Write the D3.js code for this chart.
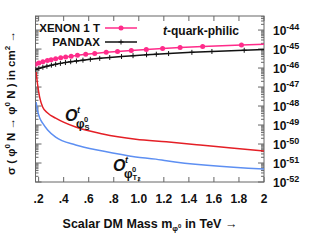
<!DOCTYPE html>
<html><head><meta charset="utf-8">
<script src="https://cdn.jsdelivr.net/npm/d3@7"></script>
<style>body{margin:0;background:#fff}svg{display:block;font-family:"Liberation Sans",Arial,sans-serif;font-weight:bold}</style>
</head><body>
<svg id="c" width="334" height="250"></svg>
<script>
// ---- data ----
const xenonMass  = [0.175,0.202,0.234,0.27,0.30,0.336,0.376,0.416,0.46,0.51,0.576,0.648,0.74,0.83,0.94,1.06,1.19,1.33,1.51,1.82,2.0];
const xenonSigma = [1.6e-46,1.85e-46,2.15e-46,2.5e-46,2.75e-46,3.1e-46,3.45e-46,3.8e-46,4.2e-46,4.65e-46,5.25e-46,5.9e-46,6.7e-46,7.5e-46,8.5e-46,9.6e-46,1.08e-45,1.2e-45,1.36e-45,1.64e-45,1.8e-45];
const pandaxMass  = [0.176,0.202,0.234,0.266,0.302,0.336,0.374,0.414,0.456,0.502,0.554,0.613,0.688,0.768,0.862,0.954,1.062,1.14,1.238,1.424,1.584,1.842,2.0];
const pandaxSigma = [8.3e-47,9.5e-47,1.1e-46,1.25e-46,1.42e-46,1.58e-46,1.76e-46,1.95e-46,2.15e-46,2.36e-46,2.6e-46,2.88e-46,3.23e-46,3.6e-46,4.05e-46,4.48e-46,5.0e-46,5.35e-46,5.8e-46,6.7e-46,7.45e-46,8.65e-46,9.4e-46];
const scalarMass  = [0.18,0.192,0.208,0.232,0.272,0.336,0.496,0.712,0.976,1.22,1.49,1.74,2.0];
const scalarSigma = [6.2e-47,1.3e-47,2.95e-48,8.9e-49,4.3e-49,2.3e-49,7.8e-50,3.4e-50,1.8e-50,1.3e-50,8.9e-51,6.2e-51,4.3e-51];
const tensorMass  = [0.18,0.192,0.208,0.232,0.272,0.336,0.496,0.712,0.976,1.136,1.22,2.0];
const tensorSigma = [1.6e-48,5.5e-49,2.4e-49,1.25e-49,5.5e-50,2.3e-50,8.9e-51,4.3e-51,2.1e-51,1.6e-51,1.3e-51,4.8e-52];
const xTickValues = [0.2,0.4,0.6,0.8,1.0,1.2,1.4,1.6,1.8,2.0];
const xTickLabels = [".2",".4",".6",".8","1.0","1.2","1.4","1.6","1.8","2"];
const yExponents  = [-52,-51,-50,-49,-48,-47,-46,-45,-44];

// ---- layout ----
const L=35.5, R=264, T=16, B=182;
const svg=d3.select("#c");
const x=d3.scaleLinear().domain([0.175,2]).range([L,R]);
const y=d3.scaleLog().domain([1e-52,Math.pow(10,-43.26)]).range([B,T]);
const frameCol="#666";

svg.append("rect").attr("x",L).attr("y",T).attr("width",R-L).attr("height",B-T)
  .attr("fill","none").attr("stroke",frameCol).attr("stroke-width",1);

const gx=svg.append("g").attr("stroke",frameCol).attr("stroke-width",1);
xTickValues.forEach(v=>{
  const px=x(v);
  gx.append("line").attr("x1",px).attr("x2",px).attr("y1",B).attr("y2",B-5);
  gx.append("line").attr("x1",px).attr("x2",px).attr("y1",T).attr("y2",T+5);
});
svg.append("g").selectAll("text").data(xTickValues).join("text")
  .attr("x",d=>x(d)).attr("y",203).attr("text-anchor","middle")
  .attr("font-size",12).attr("fill","#111").text((d,i)=>xTickLabels[i]);

const gy=svg.append("g").attr("stroke",frameCol).attr("stroke-width",1);
const [ylo,yhi]=y.domain();
yExponents.concat([-43]).forEach(e=>{
  for(let k=1;k<=9;k++){
    const v=k*Math.pow(10,e);
    if(v<ylo*0.999||v>yhi) continue;
    const len=k===1?6:3;
    const py=y(v);
    gy.append("line").attr("x1",L).attr("x2",L+len).attr("y1",py).attr("y2",py);
    gy.append("line").attr("x1",R).attr("x2",R-len).attr("y1",py).attr("y2",py);
  }
});
const yl=svg.append("g").selectAll("text").data(yExponents).join("text")
  .attr("x",273).attr("y",d=>y(Math.pow(10,d))+5).attr("font-size",12).attr("fill","#111");
yl.append("tspan").text("10");
yl.append("tspan").attr("dy",-5).attr("font-size",9).text(d=>"-"+Math.abs(d));

const line=d3.line().x(d=>x(d[0])).y(d=>y(d[1]));
const lineSmooth=d3.line().x(d=>x(d[0])).y(d=>y(d[1])).curve(d3.curveMonotoneX);
const xen=xenonMass.map((m,i)=>[m,xenonSigma[i]]);
const pan=pandaxMass.map((m,i)=>[m,pandaxSigma[i]]);
const sca=scalarMass.map((m,i)=>[m,scalarSigma[i]]);
const ten=tensorMass.map((m,i)=>[m,tensorSigma[i]]);

svg.append("clipPath").attr("id","pc").append("rect").attr("x",L).attr("y",T).attr("width",R-L).attr("height",B-T);
const plot=svg.append("g").attr("clip-path","url(#pc)");
const pink="#ff2b8a", blk="#111", red="#e41f26", blue="#5d8ff2";

plot.append("path").attr("d",lineSmooth(ten)).attr("fill","none").attr("stroke",blue).attr("stroke-width",1.5);
plot.append("path").attr("d",lineSmooth(sca)).attr("fill","none").attr("stroke",red).attr("stroke-width",1.5);
plot.append("path").attr("d",line(pan)).attr("fill","none").attr("stroke",blk).attr("stroke-width",1.5);
plot.append("path").attr("d",line(xen)).attr("fill","none").attr("stroke",pink).attr("stroke-width",1.5);
plot.selectAll("path.pm").data(pan.filter(d=>d[0]<1.99)).join("path").attr("class","pm")
  .attr("d",d=>`M${x(d[0])-2.5},${y(d[1])}h5M${x(d[0])},${y(d[1])-2.5}v5`)
  .attr("stroke",blk).attr("stroke-width",1);
plot.selectAll("circle").data(xen.filter(d=>d[0]<1.99)).join("circle")
  .attr("cx",d=>x(d[0])).attr("cy",d=>y(d[1])).attr("r",2.5).attr("fill",pink);

// legend
const leg=svg.append("g").attr("font-size",11.5).attr("fill","#111");
leg.append("text").attr("x",100).attr("y",32).attr("text-anchor","end").text("XENON 1 T");
leg.append("text").attr("x",100).attr("y",46).attr("text-anchor","end").text("PANDAX");
svg.append("line").attr("x1",105).attr("x2",137).attr("y1",28).attr("y2",28).attr("stroke",pink).attr("stroke-width",1.5);
svg.append("circle").attr("cx",121).attr("cy",28).attr("r",2.5).attr("fill",pink);
svg.append("line").attr("x1",105).attr("x2",137).attr("y1",42).attr("y2",42).attr("stroke",blk).attr("stroke-width",1.5);
svg.append("path").attr("d","M118.5,42h5M121,39.5v5").attr("stroke",blk);

const tq=svg.append("text").attr("x",163).attr("y",35).attr("font-size",12).attr("fill","#111");
tq.append("tspan").attr("font-style","italic").text("t");
tq.append("tspan").text("-quark-philic");

// operator labels (separate text pieces)
function opLabel(xp,yp,sub,idx){
  const g=svg.append("g").attr("fill","#111");
  g.append("text").attr("x",xp).attr("y",yp).attr("font-size",16).attr("font-style","italic").text("O");
  g.append("text").attr("x",xp+12).attr("y",yp-8).attr("font-size",9).attr("font-style","italic").text("t");
  g.append("text").attr("x",xp+11).attr("y",yp+7).attr("font-size",12).text("φ");
  g.append("text").attr("x",xp+19).attr("y",yp+1).attr("font-size",7.5).text("0");
  g.append("text").attr("x",xp+19.5).attr("y",yp+9).attr("font-size",7.5).text(sub);
  if(idx) g.append("text").attr("x",xp+24.5).attr("y",yp+10).attr("font-size",5.5).text(idx);
}
opLabel(65,121,"S");
opLabel(113,171,"T","2");

// axis titles
const xt=svg.append("text").attr("x",150).attr("y",228).attr("text-anchor","middle").attr("font-size",12.5).attr("fill","#111");
xt.append("tspan").text("Scalar DM Mass m");
xt.append("tspan").attr("font-size",8).attr("dy",3).text("φ");
xt.append("tspan").attr("font-size",6).attr("dy",-3).text("0");
xt.append("tspan").attr("dy",0).text(" in TeV →");

const ytl=svg.append("text").attr("transform","translate(15,103) rotate(-90)").attr("text-anchor","middle").attr("font-size",11.5).attr("fill","#111");
ytl.append("tspan").text("σ ( φ");
ytl.append("tspan").attr("font-size",8).attr("dy",-5).text("0");
ytl.append("tspan").attr("dy",5).text(" N → φ");
ytl.append("tspan").attr("font-size",8).attr("dy",-5).text("0");
ytl.append("tspan").attr("dy",5).text(" N ) in cm");
ytl.append("tspan").attr("font-size",8).attr("dy",-5).text("2");
ytl.append("tspan").attr("dy",5).text(" →");
</script>
</body></html>
